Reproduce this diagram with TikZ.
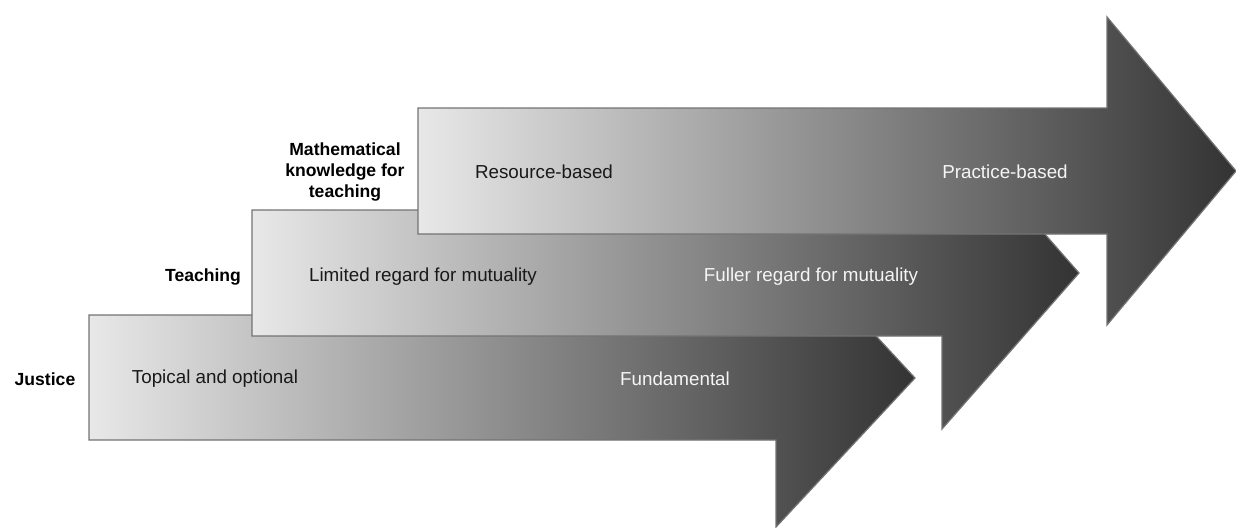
\documentclass[tikz,border=0pt]{standalone}
\usepackage{fontspec}
\setmainfont{Liberation Sans}
\usetikzlibrary{positioning}
\tikzset{stage/.style={draw=black!55, line width=0.7pt, left color=black!9, right color=black!80}}
\tikzset{lvl/.style={font=\bfseries, align=center, text=black}}
\tikzset{early/.style={text=black!90}}
\tikzset{late/.style={text=black!4}}

\begin{document}
\begin{tikzpicture}[x=0.02cm, y=-0.02cm, font=\fontsize{10.7}{12.8}\selectfont]
\useasboundingbox (0,0) rectangle (1236,527);

% the three stages, back to front
\draw[stage] (89,315) -- (776,315) -- (776,228) -- (915,378) -- (776,527) -- (776,440) -- (89,440) -- cycle;
\draw[stage] (252,210) -- (942,210) -- (942,117) -- (1079,273) -- (942,429) -- (942,336) -- (252,336) -- cycle;
\draw[stage] (418,108) -- (1107,108) -- (1107,17) -- (1236,171) -- (1107,325) -- (1107,234) -- (418,234) -- cycle;

% level names
\node[lvl] (justice) at (45,379) {Justice};
\node[lvl] (teaching) at (203,277) {Teaching};
\node[lvl] (mkt) at (345,172) {Mathematical\\knowledge for\\teaching};

% from one end of each stage to the other
\node[early] (topical) at (215,379) {Topical and optional};
\node[late] (fundamental) at (675,379) {Fundamental};
\node[early] (limited) at (423,277) {Limited regard for mutuality};
\node[late] (fuller) at (811,277) {Fuller regard for mutuality};
\node[early] (resource) at (544,172) {Resource-based};
\node[late] (practice) at (1005,172) {Practice-based};
\end{tikzpicture}
\end{document}
